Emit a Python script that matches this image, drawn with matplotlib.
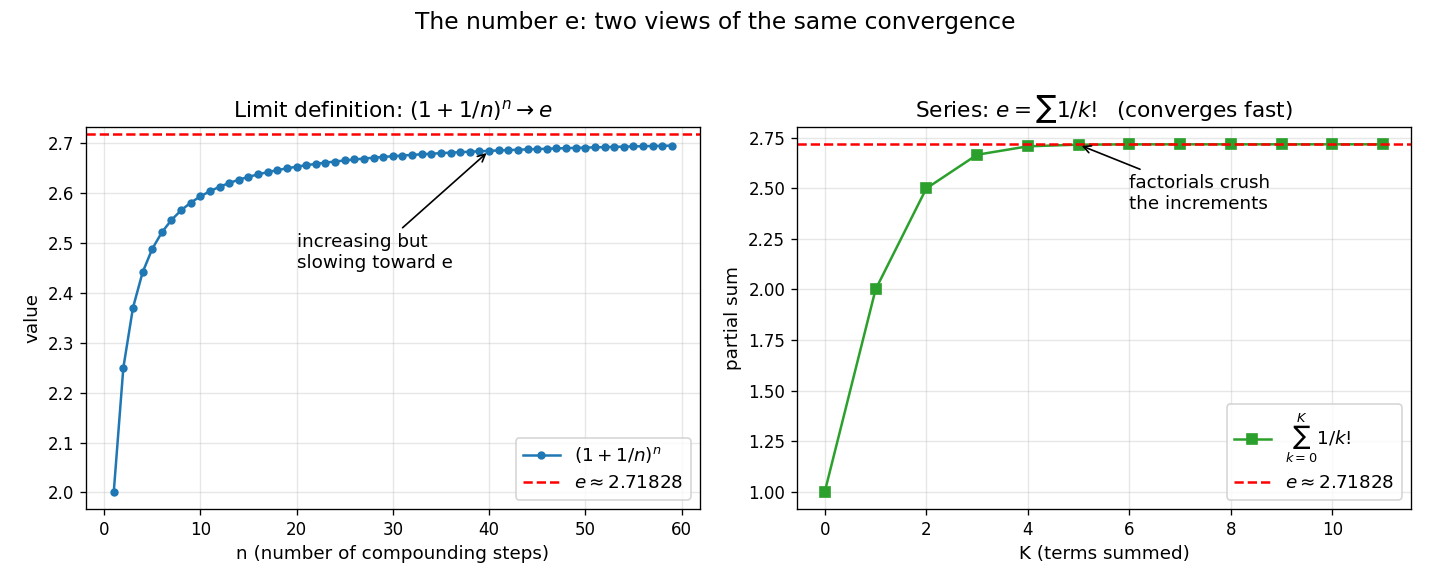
import matplotlib
matplotlib.use("Agg")
import matplotlib.pyplot as plt

# left panel: (1 + 1/n)^n for n = 1..59
n_steps = list(range(1, 60))
limit_vals = [
    2.0000, 2.2500, 2.3704, 2.4414, 2.4883, 2.5216, 2.5465, 2.5658, 2.5812, 2.5937,
    2.6042, 2.6130, 2.6206, 2.6272, 2.6329, 2.6379, 2.6424, 2.6464, 2.6500, 2.6533,
    2.6563, 2.6590, 2.6615, 2.6637, 2.6658, 2.6678, 2.6696, 2.6713, 2.6729, 2.6743,
    2.6757, 2.6770, 2.6782, 2.6794, 2.6804, 2.6815, 2.6824, 2.6834, 2.6842, 2.6851,
    2.6859, 2.6866, 2.6873, 2.6880, 2.6887, 2.6893, 2.6899, 2.6905, 2.6911, 2.6916,
    2.6921, 2.6926, 2.6931, 2.6935, 2.6940, 2.6944, 2.6948, 2.6952, 2.6956,
]

# right panel: partial sums of 1/k!
k_terms = list(range(0, 12))
partial_sums = [1.0, 2.0, 2.5, 2.666667, 2.708333, 2.716667, 2.718056,
                2.718254, 2.718279, 2.718282, 2.718282, 2.718282]

E_VAL = 2.718282

plt.rcParams["font.size"] = 11
plt.rcParams["xtick.labelsize"] = 10
plt.rcParams["ytick.labelsize"] = 10

fig, (ax1, ax2) = plt.subplots(1, 2, figsize=(1430 / 120, 585 / 120), dpi=120)
fig.subplots_adjust(left=0.060, right=0.9867, top=0.783, bottom=0.130, wspace=0.158)
fig.suptitle("The number e: two views of the same convergence", fontsize=14, y=0.982)

# limit definition
ax1.plot(n_steps, limit_vals, marker="o", markersize=4, color="tab:blue",
         label=r"$(1+1/n)^n$")
ax1.axhline(E_VAL, color="r", ls="--", label=r"$e \approx 2.71828$")
ax1.set_ylim(1.967, 2.733)
ax1.set_title(r"Limit definition: $(1+1/n)^n \to e$", fontsize=13)
ax1.set_xlabel("n (number of compounding steps)")
ax1.set_ylabel("value")
ax1.grid(alpha=0.3)
ax1.legend(loc="lower right")
ax1.annotate("increasing but\nslowing toward e", xy=(40, limit_vals[39]),
             xytext=(20, 2.45), arrowprops=dict(arrowstyle="->", color="black"))

# series
ax2.plot(k_terms, partial_sums, marker="s", markersize=6, color="tab:green",
         label=r"$\sum_{k=0}^{K} 1/k!$")
ax2.axhline(E_VAL, color="r", ls="--", label=r"$e \approx 2.71828$")
ax2.set_title(r"Series: $e=\sum 1/k!$  (converges fast)", fontsize=13)
ax2.set_xlabel("K (terms summed)")
ax2.set_ylabel("partial sum")
ax2.grid(alpha=0.3)
ax2.legend(loc="lower right")
ax2.annotate("factorials crush\nthe increments", xy=(5, partial_sums[5]),
             xytext=(6, 2.40), arrowprops=dict(arrowstyle="->", color="black"))

fig.savefig("out.png", dpi=120)
